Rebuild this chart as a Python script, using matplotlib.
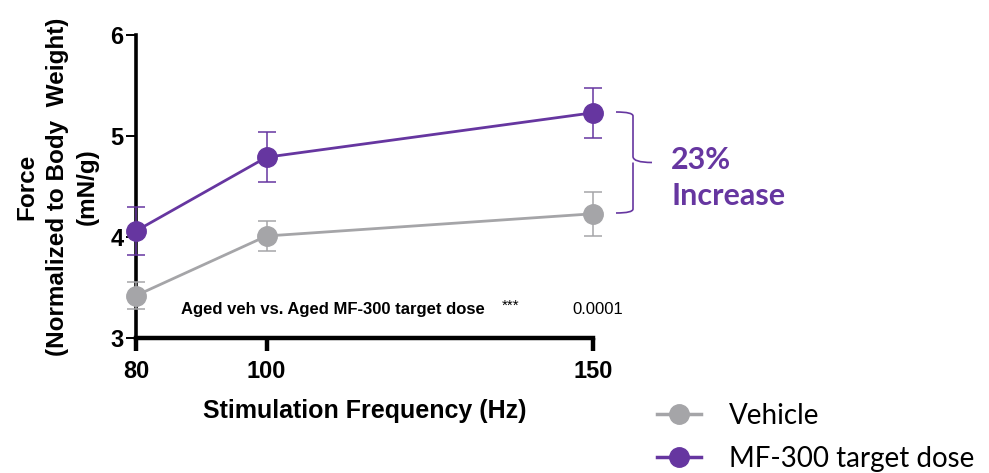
import matplotlib.pyplot as plt
from matplotlib.lines import Line2D
from matplotlib.path import Path
from matplotlib.patches import PathPatch

plt.rcParams['font.family'] = 'Liberation Sans'
plt.rcParams['font.weight'] = 'bold'
plt.rcParams['axes.labelweight'] = 'bold'

# Frecuencias de estimulación (Hz)
frecuencias = [80, 100, 150]

# Fuerza normalizada (mN/g), media y error
vehiculo = [3.42, 4.01, 4.23]
vehiculo_err = [0.13, 0.15, 0.22]
mf300 = [4.06, 4.79, 5.23]
mf300_err = [0.24, 0.25, 0.25]

etiquetas = ['Vehicle', 'MF-300 target dose']

GRIS = '#A5A5A8'
MORADO = '#6636A0'

fig = plt.figure(figsize=(9.89, 4.73), dpi=100)
ax = fig.add_axes([0.1375, 0.2854, 0.4621, 0.6406])

for y, err, color in [(vehiculo, vehiculo_err, GRIS), (mf300, mf300_err, MORADO)]:
    ax.errorbar(frecuencias, y, yerr=err, color=color, ecolor=color,
                lw=2.0, elinewidth=1.1, capsize=6.5, capthick=1.1,
                marker='o', markersize=14, clip_on=False, zorder=3)

ax.set_xlim(80, 150)
ax.set_ylim(3, 6)
ax.set_xticks(frecuencias)
ax.set_yticks([3, 4, 5, 6])

for lado in ['top', 'right']:
    ax.spines[lado].set_visible(False)
ax.spines['left'].set_linewidth(2.6)
ax.spines['bottom'].set_linewidth(3.2)

ax.tick_params(axis='both', labelsize=17)
ax.tick_params(axis='y', length=7, width=1.4, pad=2)
ax.tick_params(axis='x', length=9, width=3.2, pad=7)

ax.set_xlabel('Stimulation Frequency (Hz)', fontsize=18, labelpad=11)
ax.set_ylabel('Force\n(Normalized to Body  Weight)\n(mN/g)', fontsize=17.5,
              labelpad=8, linespacing=1.4)

# Comparación estadística
ax.text(0.098, 0.095, 'Aged veh vs. Aged MF-300 target dose', transform=ax.transAxes,
        fontsize=12, va='center')
ax.text(0.82, 0.105, '***', transform=ax.transAxes, fontsize=11,
        fontweight='normal', va='center', ha='center')
ax.text(0.954, 0.095, '0.0001', transform=ax.transAxes, fontsize=12,
        fontweight='normal', va='center', ha='left')

# Llave entre los dos grupos a 150 Hz
x0, x1, xm = 616, 633, 652
ytop, ybot = 473 - 112, 473 - 213
ymid = (ytop + ybot) / 2
verts = [(x0, ytop), (x1, ytop), (x1, ytop - 4), (x1, ymid + 6), (x1, ymid), (xm, ymid),
         (x1, ymid), (x1, ymid - 6), (x1, ybot + 4), (x1, ybot), (x0, ybot)]
codes = [Path.MOVETO, Path.CURVE3, Path.CURVE3, Path.LINETO, Path.CURVE3, Path.CURVE3,
         Path.MOVETO, Path.CURVE3, Path.LINETO, Path.CURVE3, Path.CURVE3]
verts = [(x / 989, y / 473) for x, y in verts]
fig.add_artist(PathPatch(Path(verts, codes), transform=fig.transFigure,
                         fill=False, edgecolor=MORADO, lw=1.2))

fig.text(671 / 989, 1 - 160 / 473, '23%', color=MORADO, fontsize=22,
         fontweight='bold', family='Lato', va='center')
fig.text(671 / 989, 1 - 196 / 473, 'Increase', color=MORADO, fontsize=22,
         fontweight='bold', family='Lato', va='center')

# Leyenda: marcador sobre línea, sin barras de error
handles = [Line2D([], [], color=GRIS, lw=2.5, marker='o', markersize=14),
           Line2D([], [], color=MORADO, lw=2.5, marker='o', markersize=14)]
ax.legend(handles, etiquetas, loc='upper left',
          bbox_to_anchor=(657 / 989, 1 - 403 / 473),
          bbox_transform=fig.transFigure, frameon=False, borderpad=0,
          borderaxespad=0, handlelength=1.6, handletextpad=1.0,
          labelspacing=0.6,
          prop={'family': 'Lato', 'size': 20, 'weight': 'normal'})

fig.savefig('out.png', dpi=100)
